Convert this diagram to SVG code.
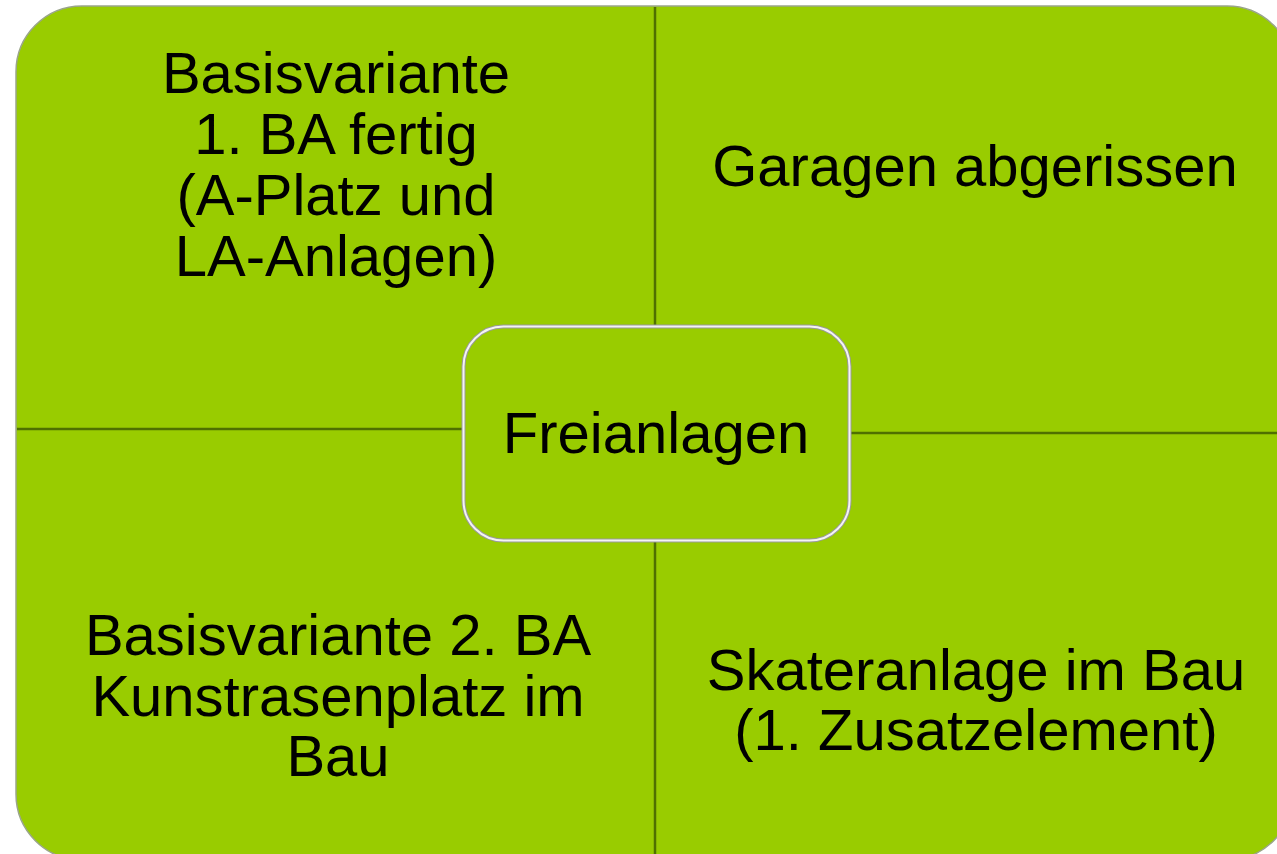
<svg xmlns="http://www.w3.org/2000/svg" width="1277" height="854" viewBox="0 0 1277 854">
<style>
.q{fill:#99CC00;stroke:none}
.edge{fill:none;stroke:#9aa58a;stroke-width:1.5}
.div{stroke:#4f7000;stroke-width:2.5;fill:none}
.t{font-family:"Liberation Sans",Arial,sans-serif;font-size:58px;fill:#000;text-anchor:middle}
</style>
<rect width="1277" height="854" fill="#ffffff"/>
<g id="quadrants">
<g id="q-top-left"><path class="q" d="M16,429 V72 A66,66 0 0 1 82,6 H655 V429 Z"/>
<text class="t"><tspan x="336" y="93">Basisvariante</tspan><tspan x="336" y="154">1. BA fertig</tspan><tspan x="336" y="215">(A-Platz und</tspan><tspan x="336" y="276">LA-Anlagen)</tspan></text></g>
<g id="q-top-right"><path class="q" d="M655,6 H1227 A66,66 0 0 1 1293,72 V433 H655 Z"/>
<text class="t" x="975" y="186">Garagen abgerissen</text></g>
<g id="q-bottom-left"><path class="q" d="M16,429 H655 V860 H82 A66,66 0 0 1 16,794 Z"/>
<text class="t"><tspan x="338" y="655">Basisvariante 2. BA</tspan><tspan x="338" y="716">Kunstrasenplatz im</tspan><tspan x="338" y="776">Bau</tspan></text></g>
<g id="q-bottom-right"><path class="q" d="M655,433 H1293 V794 A66,66 0 0 1 1227,860 H655 Z"/>
<text class="t"><tspan x="976" y="690">Skateranlage im Bau</tspan><tspan x="976" y="750">(1. Zusatzelement)</tspan></text></g>
<path class="edge" d="M16,794 V72 A66,66 0 0 1 82,6 H1227 A66,66 0 0 1 1293,72 V794 A66,66 0 0 1 1227,860 H82 A66,66 0 0 1 16,794 Z"/>
</g>
<g id="connectors">
<line class="div" x1="655" y1="7" x2="655" y2="326"/>
<line class="div" x1="655" y1="541" x2="655" y2="860"/>
<line class="div" x1="17" y1="429" x2="463" y2="429"/>
<line class="div" x1="850" y1="433" x2="1293" y2="433"/>
</g>
<g id="center">
<rect x="463.5" y="326.5" width="386" height="214" rx="40" fill="#99CC00" stroke="#9a9a9a" stroke-width="4"/>
<rect x="463.5" y="326.5" width="386" height="214" rx="40" fill="none" stroke="#f4f4f4" stroke-width="2"/>
<text class="t" x="656" y="453">Freianlagen</text>
</g>
</svg>
